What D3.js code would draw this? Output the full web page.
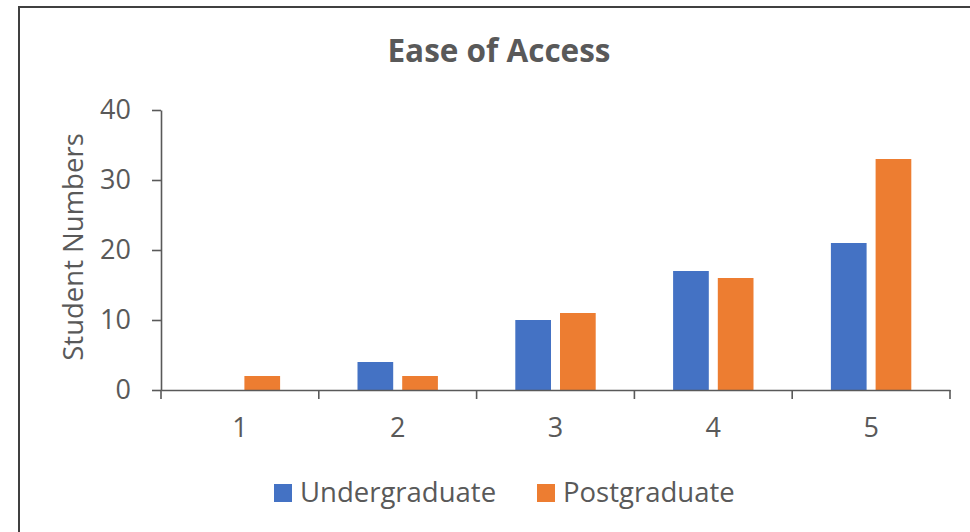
<!DOCTYPE html>
<html>
<head>
<meta charset="utf-8">
<script src="https://cdn.jsdelivr.net/npm/d3@7"></script>
<style>
  html, body { margin: 0; padding: 0; background: #fff; }
  svg { display: block; }
</style>
</head>
<body>
<svg id="chart" width="970" height="532"></svg>
<script>
const categories = ["1", "2", "3", "4", "5"];
const seriesNames = ["Undergraduate", "Postgraduate"];
const undergraduate = [0, 4, 10, 17, 21];
const postgraduate = [2, 2, 11, 16, 33];
const yTicks = [0, 10, 20, 30, 40];
const title = "Ease of Access";
const yLabel = "Student Numbers";
const colors = ["#4472C4", "#ED7D31"];

const FONT = "'Open Sans', sans-serif";
const TEXT = "#595959";
const AXIS = "#595959";

const svg = d3.select("#chart");

// outer frame
svg.append("rect")
  .attr("x", 19).attr("y", 7)
  .attr("width", 1000).attr("height", 600)
  .attr("fill", "#fff").attr("stroke", "#404040").attr("stroke-width", 2);

const plot = { left: 161, right: 950, top: 110, bottom: 390 };

const x0 = d3.scaleBand().domain(categories).range([plot.left, plot.right]).paddingInner(0).paddingOuter(0);
const y = d3.scaleLinear().domain([0, 40]).range([plot.bottom, plot.top]);

const barW = 35.7, gap = 9;
const x1 = d3.scaleOrdinal().domain(seriesNames).range([-(barW + gap / 2), gap / 2]);

const data = categories.map((c, i) => ({ cat: c, values: [
  { s: seriesNames[0], v: undergraduate[i] },
  { s: seriesNames[1], v: postgraduate[i] }
]}));

// bars
const groups = svg.append("g").selectAll("g").data(data).join("g")
  .attr("transform", d => `translate(${x0(d.cat) + x0.bandwidth() / 2},0)`);
groups.selectAll("rect").data(d => d.values).join("rect")
  .attr("x", d => x1(d.s))
  .attr("width", barW)
  .attr("y", d => y(d.v))
  .attr("height", d => y(0) - y(d.v))
  .attr("fill", (d, i) => colors[i]);

// y axis
const yAxis = svg.append("g")
  .attr("transform", `translate(${plot.left},0)`)
  .call(d3.axisLeft(y).tickValues(yTicks).tickSize(9).tickPadding(21).tickSizeOuter(0));
yAxis.select(".domain").attr("stroke", AXIS).attr("stroke-width", 1.6);
yAxis.selectAll(".tick line").attr("stroke", AXIS).attr("stroke-width", 1.6);
yAxis.selectAll(".tick text").attr("fill", TEXT).style("font-family", FONT).style("font-size", "27px");

// x axis
const xAxis = svg.append("g")
  .attr("transform", `translate(0,${plot.bottom})`)
  .call(d3.axisBottom(x0).tickSize(0).tickPadding(28));
xAxis.select(".domain").attr("stroke", AXIS).attr("stroke-width", 1.6);
xAxis.selectAll(".tick text").attr("fill", TEXT).style("font-family", FONT).style("font-size", "27px");
// boundary ticks
const bounds = categories.map(c => x0(c)).concat([x0(categories[categories.length - 1]) + x0.bandwidth()]);
xAxis.selectAll(".bound").data(bounds).join("line")
  .attr("x1", d => d).attr("x2", d => d)
  .attr("y1", 0).attr("y2", 9)
  .attr("stroke", AXIS).attr("stroke-width", 1.6);

// title
svg.append("text")
  .attr("x", 499).attr("y", 62)
  .attr("text-anchor", "middle")
  .attr("fill", TEXT)
  .style("font-family", FONT).style("font-weight", "bold").style("font-size", "31.5px")
  .text(title);

// y label
svg.append("text")
  .attr("transform", `translate(83,247) rotate(-90)`)
  .attr("text-anchor", "middle")
  .attr("fill", TEXT)
  .style("font-family", FONT).style("font-size", "27.5px")
  .text(yLabel);

// legend
const legendX = [274, 537];
const lg = svg.append("g").selectAll("g").data(seriesNames).join("g")
  .attr("transform", (d, i) => `translate(${legendX[i]},484)`);
lg.append("rect").attr("width", 18).attr("height", 18).attr("fill", (d, i) => colors[i]);
lg.append("text").attr("x", 26).attr("y", 18)
  .attr("fill", TEXT)
  .style("font-family", FONT).style("font-size", "27.5px")
  .text(d => d);
</script>
</body>
</html>
